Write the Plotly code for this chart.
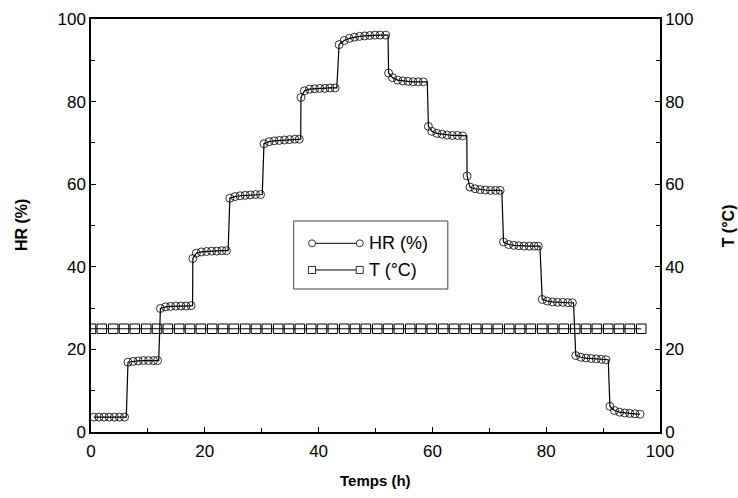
import plotly.graph_objects as go

# ---------------- data ----------------
# HR (%) sample points (markers)
hr_t = [0.5, 1.4, 2.3, 3.2, 4.1, 5.0, 5.9,
        6.5, 7.4, 8.3, 9.2, 10.1, 11.0, 11.7,
        12.2, 13.1, 14.0, 14.9, 15.8, 16.7, 17.6,
        17.9,
        18.5, 19.4, 20.3, 21.2, 22.1, 23.0, 23.8,
        24.4, 25.3, 26.2, 27.1, 28.0, 28.9, 29.8,
        30.4, 31.3, 32.2, 33.1, 34.0, 34.9, 35.8, 36.6,
        36.9,
        37.5, 38.4, 39.3, 40.2, 41.1, 42.0, 42.9,
        43.6, 44.5, 45.4, 46.3, 47.2, 48.1, 49.0, 49.9, 50.8, 51.8,
        52.3,
        53.0, 53.9, 54.8, 55.7, 56.6, 57.5, 58.4,
        59.3, 59.9, 60.8, 61.7, 62.6, 63.5, 64.4, 65.3,
        66.1,
        66.6, 67.5, 68.4, 69.3, 70.2, 71.1, 71.9,
        72.5, 73.4, 74.3, 75.2, 76.1, 77.0, 77.9, 78.6,
        79.3, 80.2, 81.1, 82.0, 82.9, 83.8, 84.6,
        85.2, 86.1, 87.0, 87.9, 88.8, 89.7, 90.5,
        91.2, 92.0, 92.9, 93.8, 94.7, 95.6, 96.5]
hr_v = [3.6, 3.6, 3.6, 3.6, 3.6, 3.6, 3.6,
        16.9, 17.1, 17.2, 17.3, 17.3, 17.3, 17.3,
        29.9, 30.3, 30.4, 30.5, 30.5, 30.5, 30.6,
        42.0,
        43.3, 43.6, 43.7, 43.8, 43.8, 43.9, 43.9,
        56.6, 57.0, 57.2, 57.3, 57.4, 57.5, 57.5,
        69.8, 70.3, 70.5, 70.6, 70.7, 70.8, 70.9, 70.9,
        81.0,
        82.6, 83.0, 83.1, 83.2, 83.2, 83.3, 83.3,
        93.8, 94.8, 95.3, 95.6, 95.8, 95.9, 96.0, 96.1, 96.1, 96.1,
        86.9,
        85.8, 85.2, 85.0, 84.9, 84.8, 84.8, 84.8,
        74.0, 72.8, 72.3, 72.1, 71.9, 71.8, 71.8, 71.7,
        62.0,
        59.3, 58.9, 58.7, 58.6, 58.5, 58.5, 58.5,
        46.0, 45.4, 45.2, 45.1, 45.0, 45.0, 45.0, 45.0,
        32.1, 31.7, 31.5, 31.4, 31.4, 31.3, 31.3,
        18.5, 18.1, 17.9, 17.8, 17.7, 17.6, 17.5,
        6.2, 5.2, 4.8, 4.6, 4.5, 4.4, 4.3]
# times of the set-point changes (vertical jumps of the curve)
jump_t = [6.2, 11.9, 17.85, 24.1, 30.1, 36.85, 43.2, 52.2,
          59.1, 66.05, 72.2, 78.9, 84.8, 90.9]

# T (°C) sample points
t_t = [0.0, 1.9, 3.9, 5.8, 7.7, 9.7, 11.6, 13.5, 15.5, 17.4, 19.3, 21.3, 23.2,
       25.1, 27.1, 29.0, 30.9, 32.9, 34.8, 36.7, 38.7, 40.6, 42.5, 44.5, 46.4,
       48.3, 50.3, 52.2, 54.1, 56.1, 58.0, 59.9, 61.9, 63.8, 65.7, 67.7, 69.6,
       71.5, 73.5, 75.4, 77.3, 79.3, 81.2, 83.1, 85.1, 87.0, 88.9, 90.9, 92.8,
       94.7, 96.7]
t_v = [25.0, 25.0, 25.0, 25.0, 25.0, 25.0, 25.0, 25.0, 25.0, 25.0, 25.0, 25.0,
       25.0, 25.0, 25.0, 25.0, 25.0, 25.0, 25.0, 25.0, 25.0, 25.0, 25.0, 25.0,
       25.0, 25.0, 25.0, 25.0, 25.0, 25.0, 25.0, 25.0, 25.0, 25.0, 25.0, 25.0,
       25.0, 25.0, 25.0, 25.0, 25.0, 25.0, 25.0, 25.0, 25.0, 25.0, 25.0, 25.0,
       25.0, 25.0, 25.0]

x_ticks = [0, 20, 40, 60, 80, 100]
y_ticks = [0, 20, 40, 60, 80, 100]
x_title = "Temps (h)"
y_title = "HR (%)"
y2_title = "T (°C)"
legend_labels = ["HR (%)", "T (°C)"]

# ---------------- build the continuous HR curve ----------------
line_t, line_v = [], []
prev_t, prev_v = None, None
for t, v in zip(hr_t, hr_v):
    if prev_t is not None:
        for J in jump_t:
            if prev_t < J <= t:
                line_t.append(J)
                line_v.append(prev_v)
    line_t.append(t)
    line_v.append(v)
    prev_t, prev_v = t, v

FONT = "Liberation Sans, Arial, sans-serif"

fig = go.Figure()
fig.add_trace(go.Scatter(x=t_t, y=t_v, mode="lines+markers", yaxis="y2",
                         line=dict(color="black", width=1),
                         marker=dict(symbol="square-open", size=9.5, color="black",
                                     line=dict(width=1)),
                         showlegend=False))
fig.add_trace(go.Scatter(x=line_t, y=line_v, mode="lines",
                         line=dict(color="black", width=1.2),
                         showlegend=False, hoverinfo="skip"))
fig.add_trace(go.Scatter(x=hr_t, y=hr_v, mode="markers",
                         marker=dict(symbol="circle-open", size=8, color="black",
                                     line=dict(width=0.8)),
                         showlegend=False))

axis_common = dict(showgrid=False, zeroline=False, linecolor="black", linewidth=1.5,
                   ticks="inside", ticklen=5, tickwidth=1, tickcolor="black",
                   automargin=False,
                   tickfont=dict(family=FONT, size=17, color="black"))

fig.update_layout(
    width=738, height=498,
    margin=dict(l=91, r=78, t=19, b=66),
    paper_bgcolor="white", plot_bgcolor="white",
    showlegend=False,
    xaxis=dict(range=[0, 100], tickvals=x_ticks, mirror=True, ticklabelstandoff=3,
               minor=dict(dtick=10, ticks="inside", ticklen=4, tickcolor="black"),
               **axis_common),
    yaxis=dict(range=[0, 100], tickvals=y_ticks,
               minor=dict(dtick=10, ticks="inside", ticklen=4, tickcolor="black"),
               **axis_common),
    yaxis2=dict(range=[0, 100], tickvals=y_ticks, overlaying="y", side="right",
                minor=dict(dtick=10, ticks="inside", ticklen=4, tickcolor="black"),
                **axis_common),
)

# ---------------- axis titles ----------------
title_font = dict(family=FONT, size=16, color="black", weight="bold")
fig.add_annotation(x=0.5, y=-0.118, xref="paper", yref="paper", text=x_title,
                   showarrow=False, xanchor="center", yanchor="middle",
                   font=dict(family=FONT, size=15, color="black", weight="bold"))
fig.add_annotation(x=-0.122, y=0.5, xref="paper", yref="paper", text=y_title,
                   showarrow=False, textangle=-90, xanchor="center", yanchor="middle",
                   font=title_font)
fig.add_annotation(x=1.121, y=0.5, xref="paper", yref="paper", text=y2_title,
                   showarrow=False, textangle=-90, xanchor="center", yanchor="middle",
                   font=title_font)

# ---------------- hand-drawn legend (markers at both ends) ----------------
bx0, bx1, by0, by1 = 0.3562, 0.6271, 0.3462, 0.5109
fig.add_shape(type="rect", xref="paper", yref="paper", x0=bx0, x1=bx1, y0=by0, y1=by1,
              line=dict(color="#444444", width=1), fillcolor="white", layer="above")
lx0, lx1, ltx = 0.3884, 0.4723, 0.4846
rows = [(0.4569, "circle"), (0.3923, "rect")]
for (ly, kind), label in zip(rows, legend_labels):
    fig.add_shape(type="line", xref="paper", yref="paper", x0=lx0, x1=lx1, y0=ly, y1=ly,
                  line=dict(color="black", width=1), layer="above")
    for xc in (lx0, lx1):
        fig.add_shape(type=kind, xref="paper", yref="paper",
                      xsizemode="pixel", ysizemode="pixel", xanchor=xc, yanchor=ly,
                      x0=-3.5, x1=3.5, y0=-3.5, y1=3.5,
                      line=dict(color="black", width=0.8), fillcolor="white", layer="above")
    fig.add_annotation(x=ltx, y=ly, xref="paper", yref="paper", text=label,
                       showarrow=False, xanchor="left", yanchor="middle",
                       font=dict(family=FONT, size=18, color="black"))

fig.write_html("out.html")
